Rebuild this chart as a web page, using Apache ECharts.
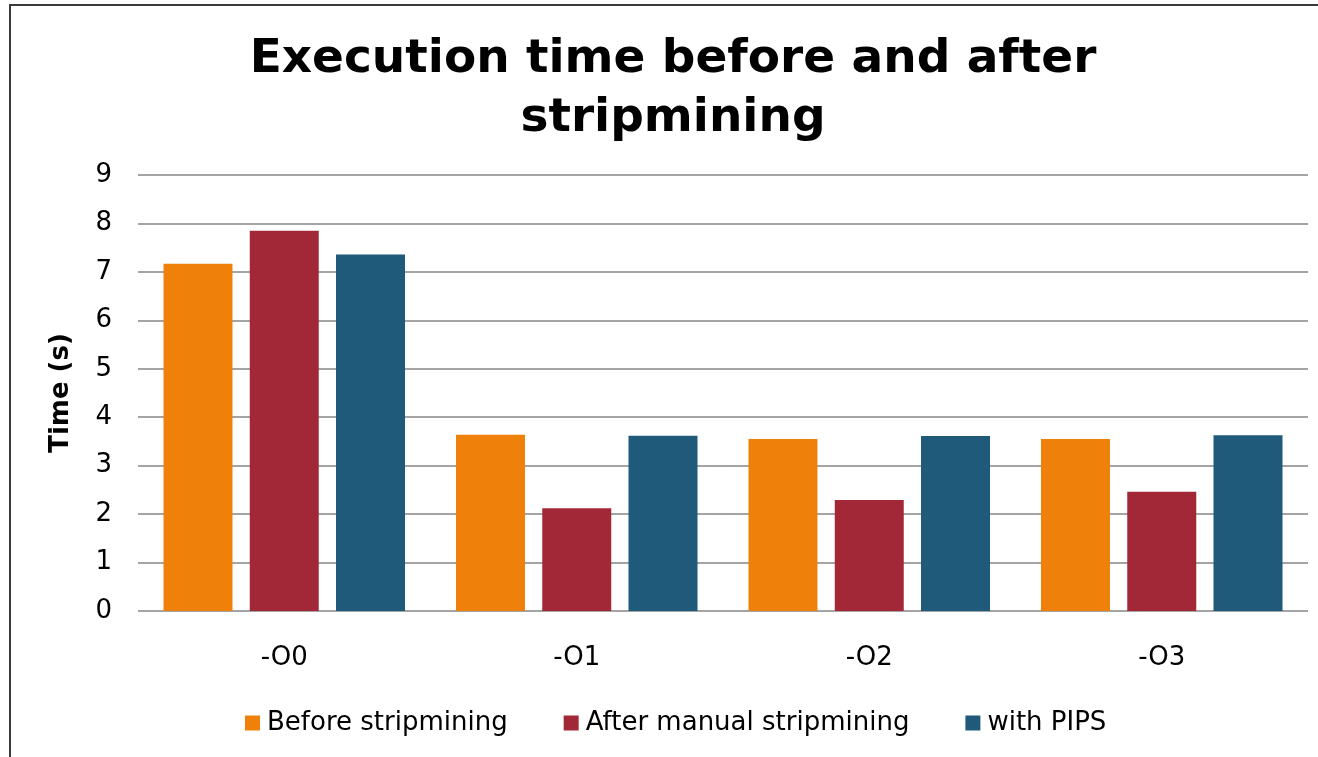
<!DOCTYPE html>
<html>
<head>
<meta charset="utf-8">
<title>Execution time before and after stripmining</title>
<script src="https://cdn.jsdelivr.net/npm/echarts@6/dist/echarts.min.js"></script>
<style>
  html, body { margin: 0; padding: 0; background: #ffffff; }
  #chart { width: 1318px; height: 757px; }
</style>
</head>
<body>
<div id="chart"></div>
<script>
// Optimisation levels on the x axis
const categories = ['-O0', '-O1', '-O2', '-O3'];

// Execution time in seconds for each variant
const beforeStripmining = [7.17, 3.64, 3.55, 3.55];
const afterManualStripmining = [7.85, 2.12, 2.29, 2.46];
const withPips = [7.36, 3.62, 3.61, 3.63];

const seriesNames = ['Before stripmining', 'After manual stripmining', 'with PIPS'];
const seriesColors = ['#EF810A', '#A22838', '#1F5A7B'];

const yTicks = { min: 0, max: 9, interval: 1 };

const FONT = 'DejaVu Sans';

const chart = echarts.init(document.getElementById('chart'), null, { renderer: 'canvas' });

const seriesData = [beforeStripmining, afterManualStripmining, withPips];

chart.setOption({
  backgroundColor: '#ffffff',
  animation: false,
  graphic: [
    {
      // outer chart frame
      type: 'rect',
      shape: { x: 10, y: 5, width: 1400, height: 800 },
      style: { fill: 'none', stroke: '#3a3a3a', lineWidth: 2 },
      silent: true
    },
    {
      type: 'text',
      x: 673,
      y: 30,
      style: {
        text: 'Execution time before and after\nstripmining',
        font: 'bold 47px "' + FONT + '"',
        fill: '#000000',
        align: 'center',
        verticalAlign: 'top',
        lineHeight: 59
      }
    }
  ],
  grid: { left: 138, right: 10, top: 175, bottom: 146, containLabel: false },
  legend: {
    left: 245,
    top: 710,
    padding: 0,
    itemWidth: 15,
    itemHeight: 15,
    itemGap: 56,
    icon: 'rect',
    data: seriesNames,
    textStyle: { fontFamily: FONT, fontSize: 26, color: '#000000', padding: [0, 0, 0, 2] }
  },
  xAxis: {
    type: 'category',
    data: categories,
    axisLine: { show: false },
    axisTick: { show: false },
    axisLabel: { fontFamily: FONT, fontSize: 26, color: '#000000', margin: 34 }
  },
  yAxis: {
    type: 'value',
    min: yTicks.min,
    max: yTicks.max,
    interval: yTicks.interval,
    name: 'Time (s)',
    nameLocation: 'middle',
    nameGap: 64,
    nameRotate: 90,
    nameTextStyle: { fontFamily: FONT, fontSize: 26, fontWeight: 'bold', color: '#000000' },
    axisLine: { show: false },
    axisTick: { show: false },
    axisLabel: { fontFamily: FONT, fontSize: 26, color: '#000000', margin: 26, padding: [7, 0, 0, 0] },
    splitLine: { show: true, lineStyle: { color: '#868686', width: 1.5 } }
  },
  series: seriesNames.map((name, i) => ({
    name: name,
    type: 'bar',
    data: seriesData[i],
    barWidth: 69,
    barGap: '25%',
    itemStyle: { color: seriesColors[i] }
  }))
});
</script>
</body>
</html>
